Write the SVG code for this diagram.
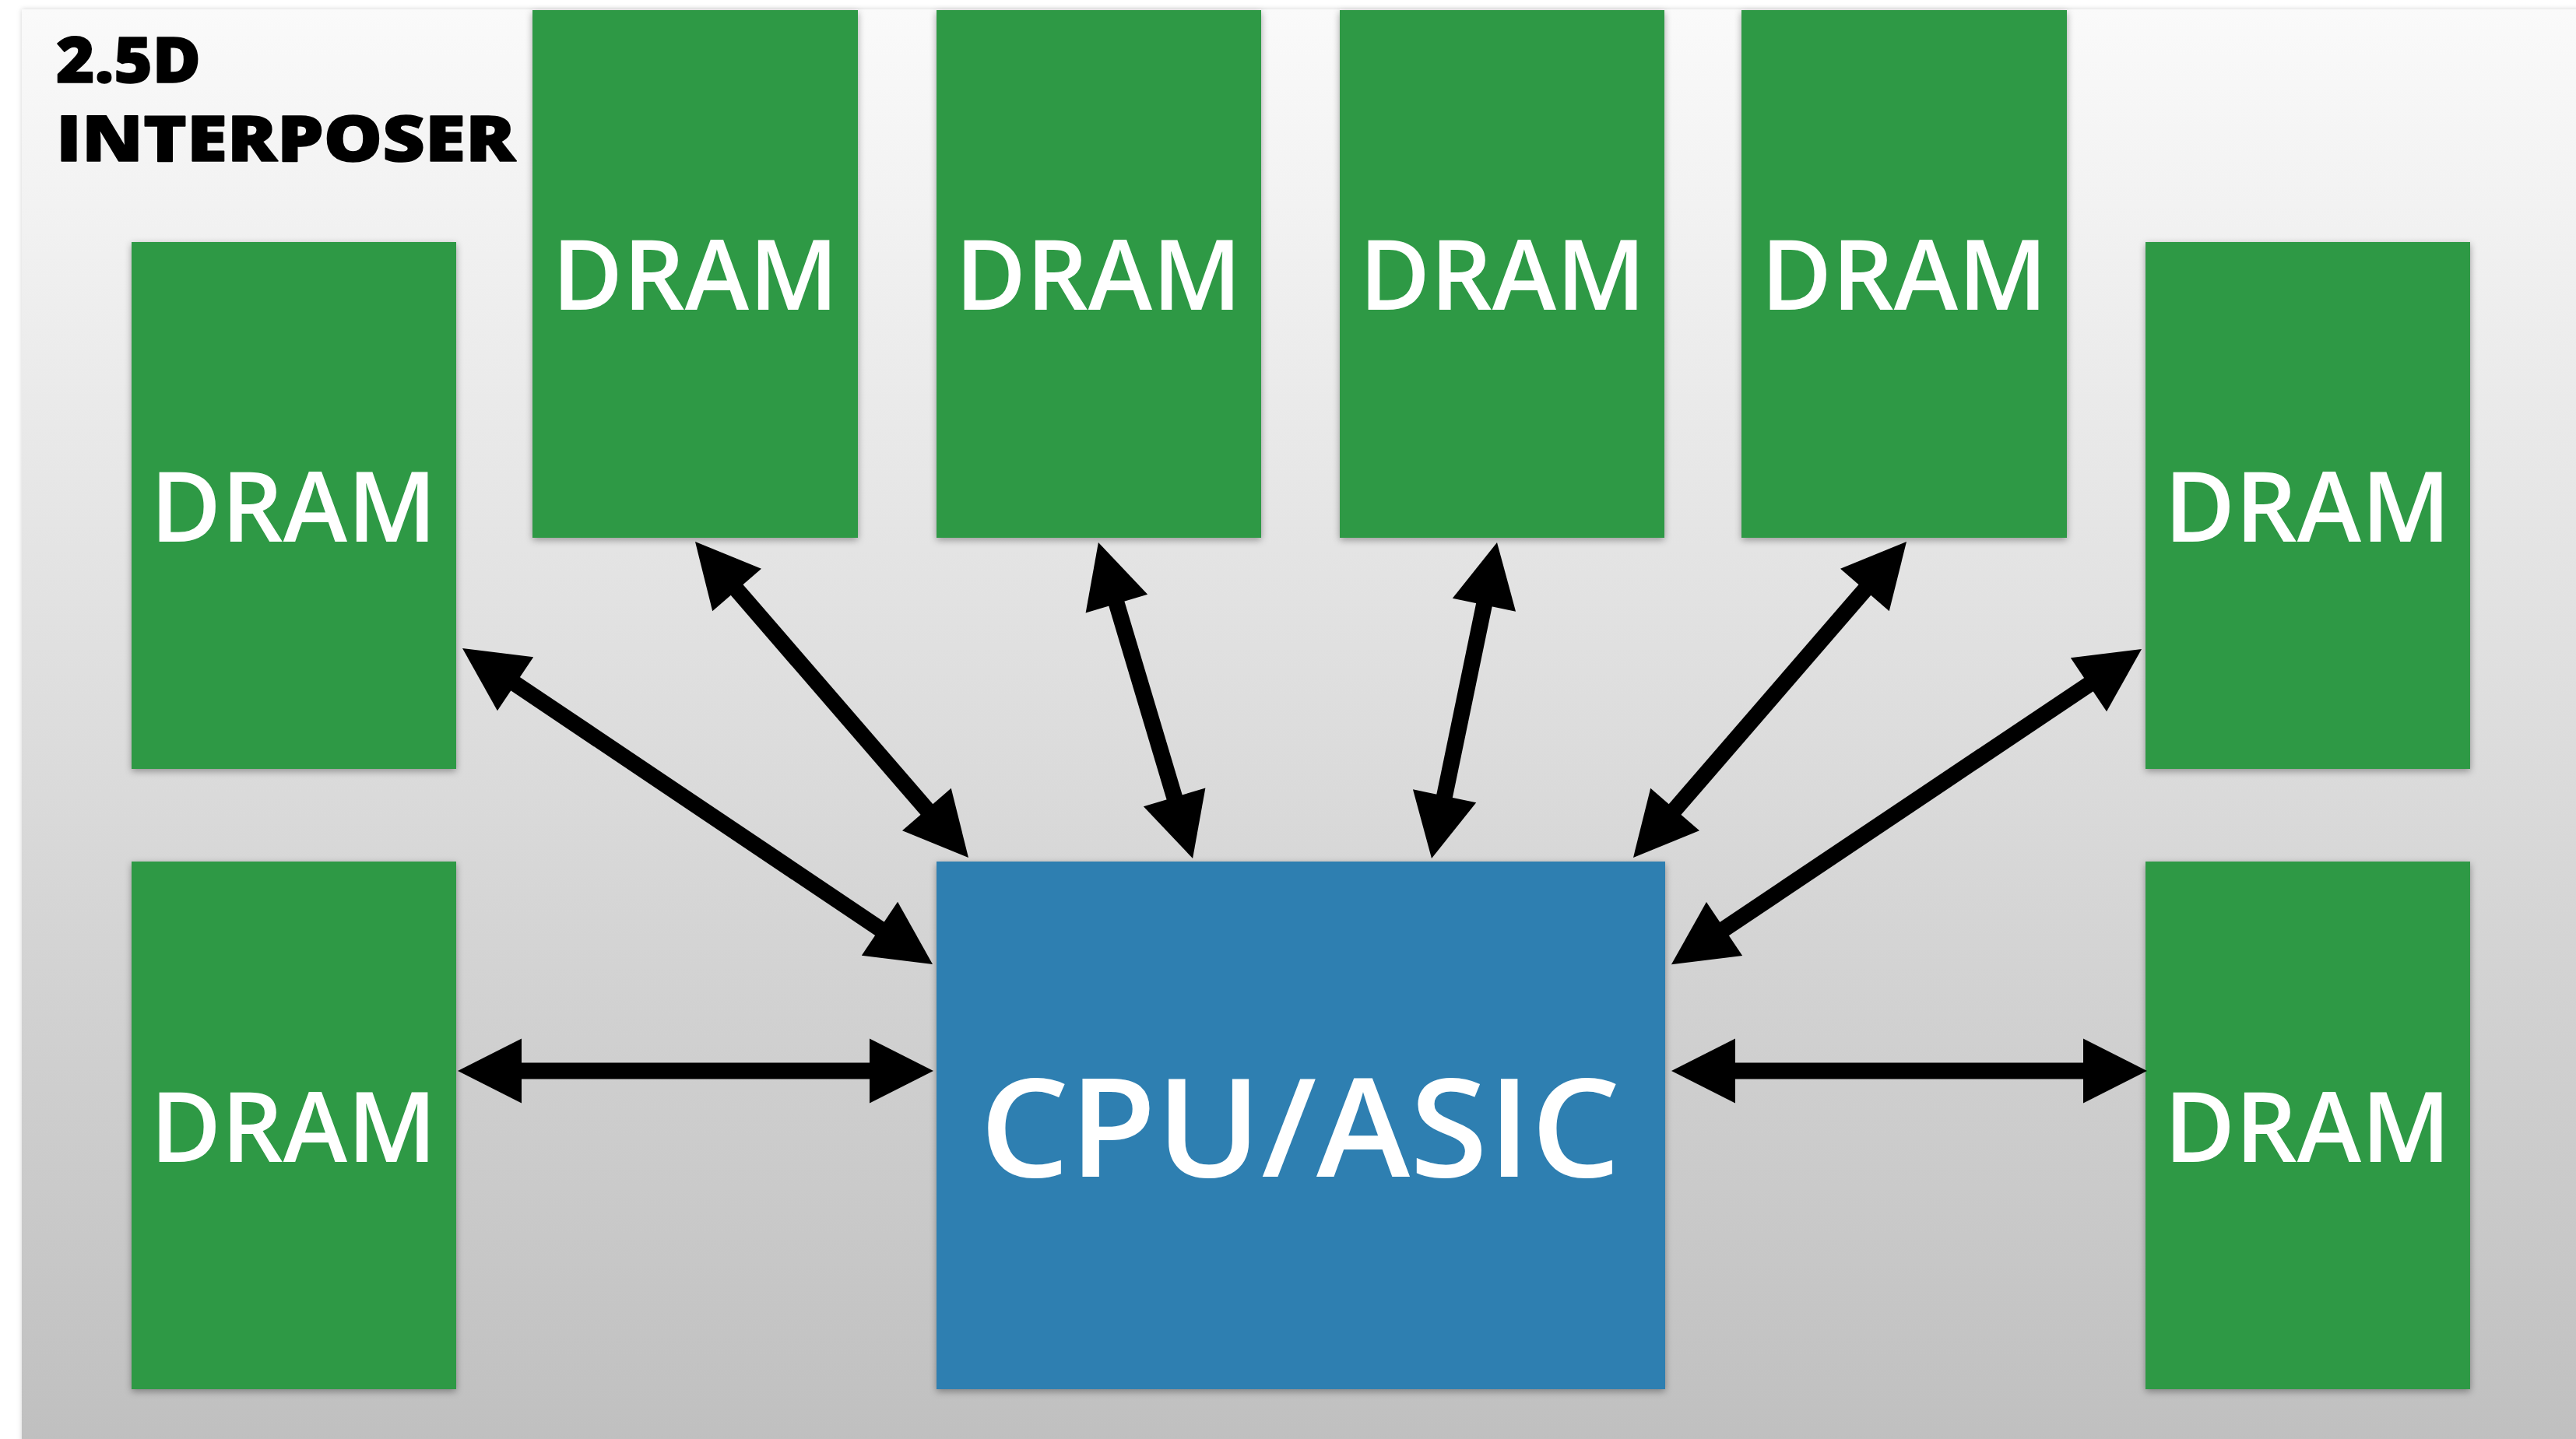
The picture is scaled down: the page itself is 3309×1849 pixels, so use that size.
<svg xmlns="http://www.w3.org/2000/svg" width="3309" height="1849" viewBox="0 0 3309 1849">
  <defs>
    <linearGradient id="panelFill" x1="0" y1="0" x2="0" y2="1">
      <stop offset="0" stop-color="#fafafa"/>
      <stop offset="1" stop-color="#bfbfbf"/>
    </linearGradient>
    <filter id="soft" x="-10%" y="-10%" width="120%" height="120%">
      <feDropShadow dx="0" dy="3" stdDeviation="5" flood-color="#000" flood-opacity="0.35"/>
    </filter>
    <filter id="panelShadow" x="-2%" y="-2%" width="104%" height="104%">
      <feDropShadow dx="0" dy="0" stdDeviation="3" flood-color="#000" flood-opacity="0.18"/>
    </filter>
    <marker id="head" markerUnits="userSpaceOnUse" markerWidth="84" markerHeight="84" viewBox="0 -42 84 84" refX="2" refY="0" orient="auto-start-reverse" overflow="visible">
      <path d="M0,-41.5 L82,0 L0,41.5 Z" fill="#000"/>
    </marker>
  </defs>
  <style>
    .dram { fill: #2e9944; filter: url(#soft); }
    .chip { fill: #2f7fb1; filter: url(#soft); }
    .lbl { font-family: "Open Sans", Lato, "Liberation Sans", sans-serif; font-weight: 600; fill: #fff; text-anchor: middle; }
    .dlbl { font-size: 125px; }
    .clbl { font-size: 176px; }
    .title { font-family: "Open Sans", Lato, "Liberation Sans", sans-serif; font-weight: 800; font-size: 81px; fill: #000; stroke: #000; stroke-width: 1.5; stroke-linejoin: round; }
    .link { stroke: #000; stroke-width: 21; fill: none; marker-start: url(#head); marker-end: url(#head); }
  </style>

  <rect x="0" y="0" width="3309" height="1849" fill="#ffffff"/>
  <rect id="interposer" x="28" y="12" width="3300" height="1860" fill="url(#panelFill)" filter="url(#panelShadow)"/>

  <g id="title">
    <text class="title" x="72" y="106" textLength="186" lengthAdjust="spacingAndGlyphs">2.5D</text>
    <text class="title" x="72" y="207" textLength="590" lengthAdjust="spacingAndGlyphs">INTERPOSER</text>
  </g>

  <!-- top row of memory stacks -->
  <g id="dram-top-1">
    <rect class="dram" x="684" y="13" width="418" height="678"/>
    <text class="lbl dlbl" x="893" y="398" textLength="368" lengthAdjust="spacingAndGlyphs">DRAM</text>
  </g>
  <g id="dram-top-2">
    <rect class="dram" x="1203" y="13" width="417" height="678"/>
    <text class="lbl dlbl" x="1411" y="398" textLength="368" lengthAdjust="spacingAndGlyphs">DRAM</text>
  </g>
  <g id="dram-top-3">
    <rect class="dram" x="1721" y="13" width="417" height="678"/>
    <text class="lbl dlbl" x="1930" y="398" textLength="368" lengthAdjust="spacingAndGlyphs">DRAM</text>
  </g>
  <g id="dram-top-4">
    <rect class="dram" x="2237" y="13" width="418" height="678"/>
    <text class="lbl dlbl" x="2446" y="398" textLength="368" lengthAdjust="spacingAndGlyphs">DRAM</text>
  </g>

  <!-- side columns -->
  <g id="dram-left-upper">
    <rect class="dram" x="169" y="311" width="417" height="677"/>
    <text class="lbl dlbl" x="377" y="696" textLength="368" lengthAdjust="spacingAndGlyphs">DRAM</text>
  </g>
  <g id="dram-left-lower">
    <rect class="dram" x="169" y="1107" width="417" height="678"/>
    <text class="lbl dlbl" x="377" y="1493" textLength="368" lengthAdjust="spacingAndGlyphs">DRAM</text>
  </g>
  <g id="dram-right-upper">
    <rect class="dram" x="2756" y="311" width="417" height="677"/>
    <text class="lbl dlbl" x="2964" y="696" textLength="368" lengthAdjust="spacingAndGlyphs">DRAM</text>
  </g>
  <g id="dram-right-lower">
    <rect class="dram" x="2756" y="1107" width="417" height="678"/>
    <text class="lbl dlbl" x="2964" y="1493" textLength="368" lengthAdjust="spacingAndGlyphs">DRAM</text>
  </g>

  <!-- processor die -->
  <g id="cpu">
    <rect class="chip" x="1203" y="1107" width="936" height="678"/>
    <text class="lbl clbl" x="1670" y="1512" textLength="823" lengthAdjust="spacingAndGlyphs">CPU/ASIC</text>
  </g>

  <!-- bidirectional links -->
  <g id="connectors">
    <line class="link" x1="660.4" y1="877.6" x2="1131.6" y2="1194.4"/>
    <line class="link" x1="945.3" y1="756.5" x2="1191.7" y2="1041.5"/>
    <line class="link" x1="1433.8" y1="773.7" x2="1509.2" y2="1026.3"/>
    <line class="link" x1="1906.8" y1="775.3" x2="1855.2" y2="1024.7"/>
    <line class="link" x1="2396.7" y1="756.5" x2="2150.3" y2="1041.5"/>
    <line class="link" x1="2684.6" y1="878.6" x2="2213.4" y2="1194.6"/>
    <line class="link" x1="668" y1="1376" x2="1119" y2="1376"/>
    <line class="link" x1="2227" y1="1376" x2="2678" y2="1376"/>
  </g>
</svg>
